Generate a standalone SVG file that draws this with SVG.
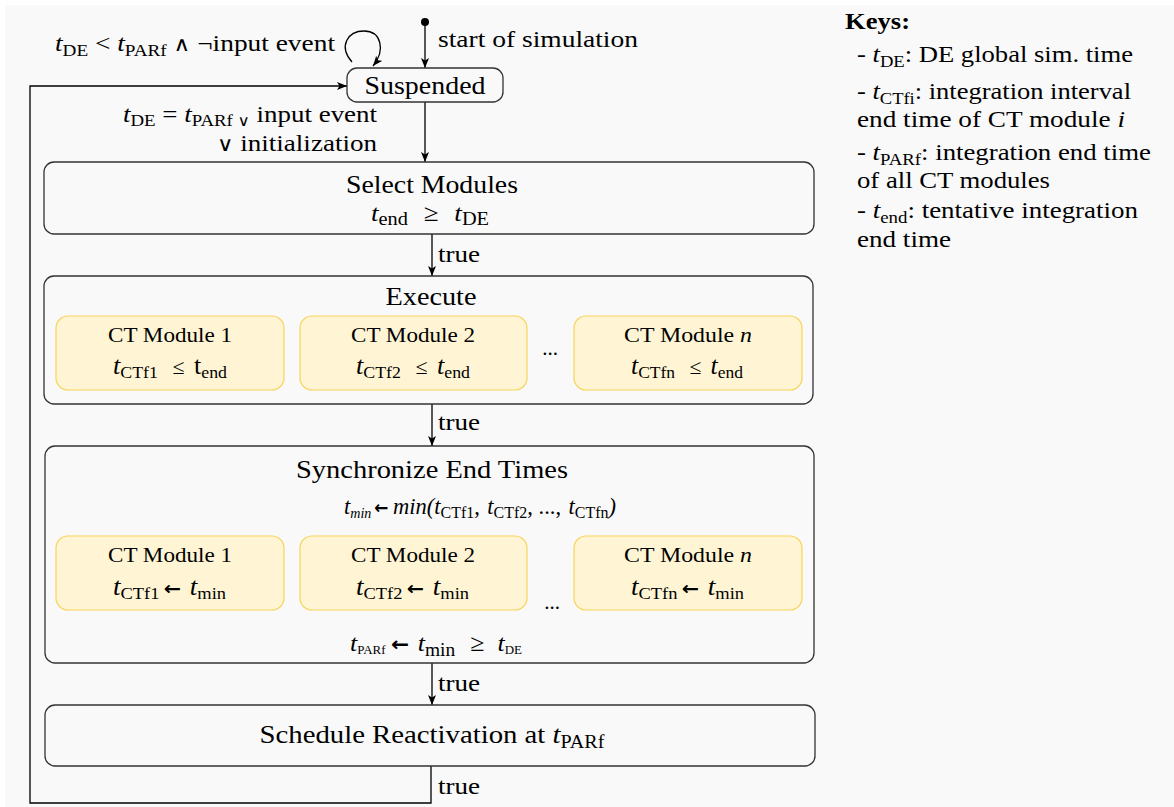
<svg xmlns="http://www.w3.org/2000/svg" width="1174" height="807" viewBox="0 0 1174 807">
<style>
text{font-family:"Liberation Serif","Times New Roman",serif;fill:#000}
.l{font-size:24px}
.h{font-size:25.5px}
.m{font-size:21px}
.i{font-style:italic}
.s{font-size:70%}
.ar{font-family:"DejaVu Sans",sans-serif;font-weight:bold}
.op{font-family:"DejaVu Serif",serif;font-weight:normal}
.box{fill:#f9f9f9;stroke:#333;stroke-width:1.3}
.ct{fill:#fff5d4;stroke:#f7d45a;stroke-width:1.2}
.c{fill:none;stroke:#000;stroke-width:1.3}
</style>
<defs>
<marker id="a" markerUnits="userSpaceOnUse" markerWidth="11" markerHeight="9" refX="10" refY="4" orient="auto">
<path d="M0,0 L10,4 L0,8 L2.5,4 Z" fill="#000"/>
</marker>
</defs>
<rect x="0" y="0" width="1174" height="807" fill="#fff"/>
<rect x="5" y="5" width="1169" height="802" fill="#f9f9f9"/>

<g id="connectors">
<circle cx="425" cy="22" r="4" fill="#000"/>
<line class="c" x1="425" y1="25" x2="425" y2="68" marker-end="url(#a)"/>
<path class="c" d="M352,62 C338,46 348,31 364,31 C381,31 386,50 373,66" marker-end="url(#a)"/>
<line class="c" x1="425" y1="102" x2="425" y2="162" marker-end="url(#a)"/>
<line class="c" x1="432" y1="234" x2="432" y2="276" marker-end="url(#a)"/>
<line class="c" x1="432" y1="404" x2="432" y2="446" marker-end="url(#a)"/>
<line class="c" x1="432" y1="663" x2="432" y2="705" marker-end="url(#a)"/>
<polyline class="c" points="431,766 431,803 30,803 30,86 347,86" marker-end="url(#a)"/>
<text class="l" x="55" y="51" textLength="280" lengthAdjust="spacingAndGlyphs"><tspan class="i">t</tspan><tspan class="s" dy="5">DE</tspan><tspan dy="-5"> &lt; </tspan><tspan class="i">t</tspan><tspan class="s" dy="5">PARf</tspan><tspan dy="-5"> </tspan><tspan class="op" font-size="20">∧</tspan><tspan> ¬input event</tspan></text>
<text class="l" x="438" y="47" textLength="200" lengthAdjust="spacingAndGlyphs">start of simulation</text>
<text class="l" x="377" y="122" text-anchor="end" textLength="254" lengthAdjust="spacingAndGlyphs"><tspan class="i">t</tspan><tspan class="s" dy="4">DE</tspan><tspan dy="-4"> = </tspan><tspan class="i">t</tspan><tspan class="s" dy="4">PARf </tspan><tspan class="op" font-size="15">∨</tspan><tspan dy="-4"> input event</tspan></text>
<text class="l" x="377" y="151" text-anchor="end" textLength="160" lengthAdjust="spacingAndGlyphs"><tspan class="op" font-size="20">∨</tspan> initialization</text>
<text class="l" x="438" y="262" textLength="42" lengthAdjust="spacingAndGlyphs">true</text>
<text class="l" x="438" y="430" textLength="42" lengthAdjust="spacingAndGlyphs">true</text>
<text class="l" x="438" y="691" textLength="42" lengthAdjust="spacingAndGlyphs">true</text>
<text class="l" x="438" y="794" textLength="42" lengthAdjust="spacingAndGlyphs">true</text>
</g>

<g id="suspended">
<rect class="box" x="347" y="68" width="156" height="34" rx="10"/>
<text class="h" x="425" y="94" text-anchor="middle" textLength="121" lengthAdjust="spacingAndGlyphs">Suspended</text>
</g>

<g id="select">
<rect class="box" x="44" y="162" width="770" height="72" rx="10"/>
<text class="h" x="432" y="193" text-anchor="middle" textLength="172" lengthAdjust="spacingAndGlyphs">Select Modules</text>
<text class="l" x="371" y="221" textLength="118" lengthAdjust="spacingAndGlyphs"><tspan class="i">t</tspan><tspan font-size="18" dy="4">end</tspan><tspan dy="-4" dx="14">≥</tspan><tspan class="i" dx="14">t</tspan><tspan font-size="18" dy="4">DE</tspan></text>
</g>

<g id="execute">
<rect class="box" x="44" y="276" width="769" height="128" rx="10"/>
<text class="h" x="431" y="305" text-anchor="middle" textLength="91" lengthAdjust="spacingAndGlyphs">Execute</text>
</g>
<g id="exec-ct1">
<rect class="ct" x="56" y="316" width="228" height="74" rx="12"/>
<text class="m" x="170" y="342" text-anchor="middle" textLength="124" lengthAdjust="spacingAndGlyphs">CT Module 1</text>
<text class="m" x="113" y="374" textLength="114" lengthAdjust="spacingAndGlyphs"><tspan class="i" font-size="25">t</tspan><tspan font-size="17" dy="4">CTf1</tspan><tspan dy="-4" dx="14">≤</tspan><tspan dx="9" font-size="25">t</tspan><tspan font-size="17" dy="4">end</tspan></text>
</g>
<g id="exec-ct2">
<rect class="ct" x="300" y="316" width="227" height="74" rx="12"/>
<text class="m" x="413" y="342" text-anchor="middle" textLength="124" lengthAdjust="spacingAndGlyphs">CT Module 2</text>
<text class="m" x="356" y="374" textLength="114" lengthAdjust="spacingAndGlyphs"><tspan class="i" font-size="25">t</tspan><tspan font-size="17" dy="4">CTf2</tspan><tspan dy="-4" dx="14">≤</tspan><tspan class="i" dx="9" font-size="25">t</tspan><tspan font-size="17" dy="4">end</tspan></text>
</g>
<text class="m" x="550" y="355" text-anchor="middle">...</text>
<g id="exec-ctn">
<rect class="ct" x="574" y="316" width="228" height="74" rx="12"/>
<text class="m" x="688" y="342" text-anchor="middle" textLength="128" lengthAdjust="spacingAndGlyphs">CT Module <tspan class="i">n</tspan></text>
<text class="m" x="631" y="374" textLength="112" lengthAdjust="spacingAndGlyphs"><tspan class="i" font-size="25">t</tspan><tspan font-size="17" dy="4">CTfn</tspan><tspan dy="-4" dx="14">≤</tspan><tspan class="i" dx="9" font-size="25">t</tspan><tspan font-size="17" dy="4">end</tspan></text>
</g>

<g id="synchronize">
<rect class="box" x="45" y="446" width="769" height="217" rx="10"/>
<text class="h" x="432" y="478" text-anchor="middle" textLength="272" lengthAdjust="spacingAndGlyphs">Synchronize End Times</text>
<text class="l" x="344" y="514" textLength="272" lengthAdjust="spacingAndGlyphs"><tspan class="i">t</tspan><tspan class="i" font-size="15" dy="4">min</tspan><tspan class="ar" font-size="18" dy="-4" dx="3">←</tspan><tspan class="i" dx="5">min(t</tspan><tspan font-size="17" dy="4">CTf1</tspan><tspan dy="-4">, </tspan><tspan class="i" dx="2">t</tspan><tspan font-size="17" dy="4">CTf2</tspan><tspan dy="-4">, ..., </tspan><tspan class="i" dx="2">t</tspan><tspan font-size="17" dy="4">CTfn</tspan><tspan class="i" dy="-4">)</tspan></text>
<text class="l" x="350" y="651" textLength="172" lengthAdjust="spacingAndGlyphs"><tspan class="i">t</tspan><tspan font-size="12" dy="3">PARf</tspan><tspan class="ar" font-size="20" dy="-3" dx="5">←</tspan><tspan class="i" dx="8">t</tspan><tspan font-size="18" dy="5">min</tspan><tspan dy="-5" dx="14">≥</tspan><tspan class="i" dx="12">t</tspan><tspan font-size="12" dy="3">DE</tspan></text>
<text class="m" x="552" y="609" text-anchor="middle">...</text>
</g>
<g id="sync-ct1">
<rect class="ct" x="56" y="536" width="228" height="74" rx="12"/>
<text class="m" x="170" y="562" text-anchor="middle" textLength="124" lengthAdjust="spacingAndGlyphs">CT Module 1</text>
<text class="m" x="113" y="595" textLength="113" lengthAdjust="spacingAndGlyphs"><tspan class="i" font-size="25">t</tspan><tspan font-size="17" dy="4">CTf1</tspan><tspan class="ar" font-size="19" dy="-4" dx="4">←</tspan><tspan class="i" dx="8" font-size="25">t</tspan><tspan font-size="17" dy="4">min</tspan></text>
</g>
<g id="sync-ct2">
<rect class="ct" x="300" y="536" width="227" height="74" rx="12"/>
<text class="m" x="413" y="562" text-anchor="middle" textLength="124" lengthAdjust="spacingAndGlyphs">CT Module 2</text>
<text class="m" x="356" y="595" textLength="113" lengthAdjust="spacingAndGlyphs"><tspan class="i" font-size="25">t</tspan><tspan font-size="17" dy="4">CTf2</tspan><tspan class="ar" font-size="19" dy="-4" dx="4">←</tspan><tspan class="i" dx="8" font-size="25">t</tspan><tspan font-size="17" dy="4">min</tspan></text>
</g>
<g id="sync-ctn">
<rect class="ct" x="574" y="536" width="228" height="74" rx="12"/>
<text class="m" x="688" y="562" text-anchor="middle" textLength="128" lengthAdjust="spacingAndGlyphs">CT Module <tspan class="i">n</tspan></text>
<text class="m" x="631" y="595" textLength="113" lengthAdjust="spacingAndGlyphs"><tspan class="i" font-size="25">t</tspan><tspan font-size="17" dy="4">CTfn</tspan><tspan class="ar" font-size="19" dy="-4" dx="4">←</tspan><tspan class="i" dx="8" font-size="25">t</tspan><tspan font-size="17" dy="4">min</tspan></text>
</g>

<g id="schedule">
<rect class="box" x="45" y="705" width="770" height="61" rx="10"/>
<text class="h" x="432" y="743" text-anchor="middle" textLength="345" lengthAdjust="spacingAndGlyphs">Schedule Reactivation at <tspan class="i">t</tspan><tspan class="s" dy="5">PARf</tspan></text>
</g>

<g id="keys">
<text class="l" x="845" y="29" font-weight="bold" textLength="65" lengthAdjust="spacingAndGlyphs">Keys:</text>
<text class="l" x="857" y="62" textLength="276" lengthAdjust="spacingAndGlyphs">- <tspan class="i">t</tspan><tspan class="s" dy="5">DE</tspan><tspan dy="-5">: DE global sim. time</tspan></text>
<text class="l" x="857" y="99" textLength="274" lengthAdjust="spacingAndGlyphs">- <tspan class="i">t</tspan><tspan class="s" dy="5">CTfi</tspan><tspan dy="-5">: integration interval</tspan></text>
<text class="l" x="857" y="127" textLength="268" lengthAdjust="spacingAndGlyphs">end time of CT module <tspan class="i">i</tspan></text>
<text class="l" x="857" y="160" textLength="294" lengthAdjust="spacingAndGlyphs">- <tspan class="i">t</tspan><tspan class="s" dy="5">PARf</tspan><tspan dy="-5">: integration end time</tspan></text>
<text class="l" x="857" y="188" textLength="193" lengthAdjust="spacingAndGlyphs">of all CT modules</text>
<text class="l" x="857" y="218" textLength="281" lengthAdjust="spacingAndGlyphs">- <tspan class="i">t</tspan><tspan class="s" dy="5">end</tspan><tspan dy="-5">: tentative integration</tspan></text>
<text class="l" x="857" y="247" textLength="94" lengthAdjust="spacingAndGlyphs">end time</text>
</g>
</svg>
